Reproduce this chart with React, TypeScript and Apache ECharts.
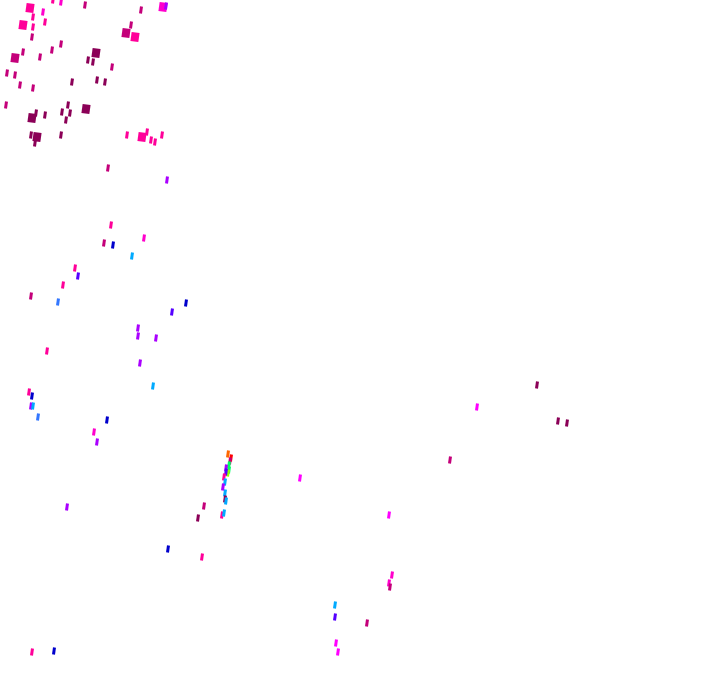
import React, { useEffect, useRef } from "react";
import * as echarts from "echarts";

// Horizontal positions of the marks (axis units)
const xs = [
  30, 33, 33, 32, 43, 45, 23, 53, 61, 85, 141, 163, 166, 131, 126, 135,
  15, 23, 40, 52, 61, 96, 93, 88, 112, 7, 15, 20, 33, 72, 97, 105, 6,
  32, 36, 45, 62, 68, 70, 66, 86, 31, 37, 35, 61,
  127, 142, 147, 151, 155, 162, 108, 167,
  111, 104, 113, 144, 132, 75, 78, 63, 31, 58, 186, 172,
  138, 138, 156, 47, 140, 29, 32, 31, 33, 38, 107, 94, 97, 153,
  67, 198, 168, 32, 54,
  228, 231, 230, 229, 226, 229, 228, 226, 224, 225, 223, 225, 225, 226, 204, 222, 224, 202,
  300, 389, 392, 389, 390, 335, 335, 367, 336, 338,
  537, 477, 558, 567, 450,
];

// Vertical positions of the marks (axis units, downward)
const ys = [
  8, 17, 27, 37, 12, 22, 25, 0, 2, 5, 10, 7, 6, 25, 33, 37,
  58, 52, 57, 50, 44, 53, 62, 60, 67, 73, 75, 85, 88, 82, 80, 82, 105,
  118, 113, 115, 112, 105, 113, 120, 109, 135, 137, 143, 135,
  135, 137, 132, 140, 142, 135, 168, 180,
  225, 243, 245, 238, 256, 268, 276, 285, 296, 302, 303, 312,
  328, 336, 338, 351, 363, 392, 396, 406, 406, 417, 420, 432, 442, 386,
  507, 518, 549, 652, 651,
  454, 458, 461, 465, 468, 470, 473, 472, 477, 482, 487, 493, 499, 501, 506, 515, 513, 557,
  478, 515, 575, 583, 587, 605, 617, 623, 643, 652,
  385, 407, 421, 423, 460,
];

// Value level of each mark (index into the colour scale)
const tones = [
  2, 2, 2, 1, 3, 2, 2, 2, 3, 1, 1, 3, 5, 1, 1, 2,
  1, 1, 1, 1, 1, 0, 0, 0, 1, 1, 1, 1, 1, 0, 0, 0, 1,
  0, 0, 0, 0, 0, 0, 0, 0, 0, 0, 0, 0,
  2, 2, 2, 2, 2, 2, 1, 5,
  2, 1, 7, 3, 9, 2, 6, 2, 1, 8, 7, 6,
  5, 5, 5, 2, 5, 2, 7, 5, 9, 8, 7, 3, 5, 9,
  5, 0, 7, 2, 7,
  12, 13, 1, 10, 5, 10, 11, 6, 2, 9, 5, 9, 0, 9, 1, 2, 9, 2,
  4, 4, 3, 3, 1, 9, 6, 1, 4, 4,
  0, 4, 0, 0, 1,
];

// Weight of each mark (1 = large block)
const weights = [
  1, 0, 0, 0, 0, 0, 1, 0, 0, 0, 0, 1, 0, 0, 1, 1,
  1, 0, 0, 0, 0, 1, 0, 0, 0, 0, 0, 0, 0, 0, 0, 0, 0,
  1, 0, 0, 0, 0, 0, 0, 1, 0, 1, 0, 0,
  0, 1, 0, 0, 0, 0, 0, 0,
  0, 0, 0, 0, 0, 0, 0, 0, 0, 0, 0, 0,
  0, 0, 0, 0, 0, 0, 0, 0, 0, 0, 0, 0, 0, 0,
  0, 0, 0, 0, 0,
  0, 0, 0, 0, 0, 0, 0, 0, 0, 0, 0, 0, 0, 0, 0, 0, 0, 0,
  0, 0, 0, 0, 0, 0, 0, 0, 0, 0,
  0, 0, 0, 0, 0,
];

const palette = [
  "#8b0057", "#c4007a", "#ff0099", "#ff00cc", "#ff00ff", "#aa00ff", "#5500ff",
  "#0000cc", "#3377ff", "#00aaff", "#00ff66", "#99ff00", "#ff6600", "#ff0000",
];

export default function App() {
  const ref = useRef<HTMLDivElement>(null);
  useEffect(() => {
    if (!ref.current) return;
    const chart = echarts.init(ref.current, undefined, { renderer: "svg" });
    const data = xs.map((x, i) => [x, ys[i], tones[i], weights[i]]);
    chart.setOption({
      animation: false,
      backgroundColor: "#ffffff",
      grid: { left: 0, right: 0, top: 0, bottom: 0 },
      xAxis: { type: "value", min: 0, max: 720, show: false },
      yAxis: { type: "value", min: 0, max: 692, inverse: true, show: false },
      series: [
        {
          type: "scatter",
          data,
          symbol: "rect",
          symbolRotate: -8,
          symbolSize: (v: number[]) => (v[3] ? [8, 9] : [3, 7]),
          itemStyle: {
            color: (p: any) => palette[p.value[2]],
            opacity: 1,
          },
        },
      ],
    });
    return () => chart.dispose();
  }, []);
  return (
    <div
      ref={ref}
      style={{ position: "fixed", left: 0, top: 0, width: 720, height: 692 }}
    />
  );
}
